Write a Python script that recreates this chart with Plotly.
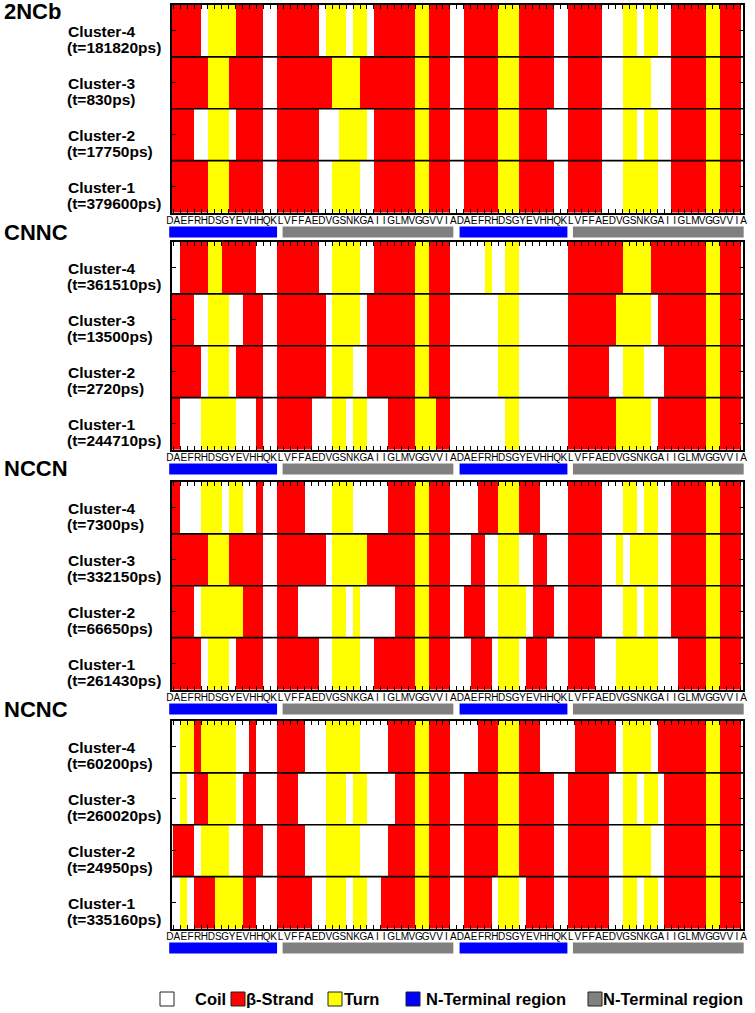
import plotly.graph_objects as go

W, H = 755, 1013

# ---------------- data ----------------
residue_numbers = list(range(1, 85))
sequence_labels = list("DAEFRHDSGYEVHHQKLVFFAEDVGSNKGAIIGLMVGGVVIA"
                       "DAEFRHDSGYEVHHQKLVFFAEDVGSNKGAIIGLMVGGVVIA")

panels = ["2NCb", "CNNC", "NCCN", "NCNC"]
clusters = ["Cluster-4", "Cluster-3", "Cluster-2", "Cluster-1"]

times_2NCb = ["181820", "830", "17750", "379600"]
times_CNNC = ["361510", "13500", "2720", "244710"]
times_NCCN = ["7300", "332150", "66650", "261430"]
times_NCNC = ["60200", "260020", "24950", "335160"]

# per-residue secondary structure (C = coil, E = beta-strand, T = turn), rows Cluster-4 .. Cluster-1
ss_2NCb = [
    "EEEEECTTTTEEEECCEEEEEECTTTCTTCEEEEEETTEEEC" "CEEEEETTTEEEEECCEEEEECCCTTCTTCCEEEEETTEEEC",
    "EEEEEETTTEEEEECCEEEEEEEETTTTEEEEEEEETTEEEC" "CEEEEETTTEEEEECCEEEEECCCTTTTCCCEEEEETTEEEC",
    "EEEECCTTTCEEEECCEEEEEECCCTTTTCEEEEEETTEEEC" "CEEEEETTTEEEECCCEEEEECCCTTCTTCCEEEEETTEEEC",
    "EEEEEETTTEEEEECCEEEEEECCTTTTCCEEEEEETTEEEC" "CEEEEETTTEEEEECCEEEEECCCTTTTTCCEEEEETTEEEC",
]
ss_CNNC = [
    "CCEEEETTEEEEECCCEEEEEECCTTTTCCEEEEEETTEEEC" "CCCCTCCTTCCCCCCCEEEEEEEETTTTEEEEEEEETTEEEC",
    "EEEECCTTTCCEEECCEEEEEEECTTTTCEEEEEEETTEEEC" "CCCCCCTTTCCCCCCCEEEEEEETTTTTCEEEEEEETTEEEC",
    "EEEEECTTTCEEEECCEEEEEEECTTTCCEEEEEEETTEEEC" "CCCCCCTTTCCCCCCCEEEEEECCTTTCCCEEEEEETTEEEC",
    "EECCCTTTTTCCCECCEEEEECCCTTCTTCCCEEEETTTEEC" "CCCCCCCTTCCCCCCCEEEEEEETTTTTCEEEEEEETTEEEC",
]
ss_NCCN = [
    "EECCCTTTCTTCCECCEEEECCCCTTTCCCCCEEEETTEEEC" "CCCEEETTTEEECCCCEEEEECCCTTCTTCCEEEEETTEEEC",
    "EEEEEETTTEEEEECCEEEEEEECTTTTTEEEEEEETTEEEC" "CCEECCTTTCCEECCCEEEEECCTCTTTTCCEEEEETTEEEC",
    "EEEECTTTTTTEEECCEEECCCCCTTCTCCCCCEEETTEEEC" "CEEECCTTTTCEEECCEEEEECCCTTCTTCCEEEEETTEEEC",
    "EEEEECTTTCEEEECCEEEEEECCTTTTCCEEEEEETTEEEC" "CCEEECTTTCEEECCCEEEECCCTTTTTTCCCEEEETTEEEC",
]
ss_NCNC = [
    "CCTTETTTTTCCECCCEEEECCCTTTTTCCCCEEEETTEEEC" "CCCEEETTTEEECCCCCEEEEEECTTTTCEEEEEEETTEEEC",
    "CCTCEETTTTCEECCCEEECCCCTTTCTTCCCCEEETTEEEC" "CEEEEETTTEEEEECCEEEEEECCTTCTTCEEEEEETTEEEC",
    "CEEECTTTTCCEEECCEEEECCCTTTTTCCCCEEEETTEEEC" "CEEEEETTTEEEEECCEEEEEECCTTTTCCEEEEEETTEEEC",
    "CCTCEEETTTTEECCCEEEEECCTTTCTTCCEEEEETTEEEC" "CEEEECTTTCEEEECCEEEEEECCTTCTTCEEEEEETTEEEC",
]

# region bars under each panel (axis units)
region_start = [0.9, 17.3, 42.9, 59.3]
region_end = [16.5, 42.0, 58.5, 84.0]
region_color = ["#0000FF", "#808080", "#0000FF", "#808080"]

legend_labels = ["Coil", "\u03b2-Strand", "Turn", "N-Terminal region", "N-Terminal region"]
legend_colors = ["#FFFFFF", "#FF0000", "#FFFF00", "#0000FF", "#808080"]

# ---------------- layout constants ----------------
FONT = "Liberation Sans, Arial, sans-serif"
X0, X1 = 171.7, 743.0          # plot area left/right (px)
XR = [1.26, 83.9]               # visible residue range
TOPS = [5, 242, 482, 721]       # panel tops (px)
PH = 207.5                      # panel height (px)

code = {"C": 0, "E": 1, "T": 2}
colorscale = [[0, "#FFFFFF"], [0.25, "#FFFFFF"], [0.25, "#FF0000"], [0.75, "#FF0000"],
              [0.75, "#FFFF00"], [1, "#FFFF00"]]

panel_ss = [ss_2NCb, ss_CNNC, ss_NCCN, ss_NCNC]
panel_times = [times_2NCb, times_CNNC, times_NCCN, times_NCNC]

def py(px):
    return 1 - px / H

fig = go.Figure()
layout = {}
shapes = []
annotations = []

units_per_paper = (XR[1] - XR[0]) / ((X1 - X0) / W)
strip_range = [XR[0] - (X0 / W) * units_per_paper, XR[1] + (1 - X1 / W) * units_per_paper]
layout["xaxis5"] = dict(domain=[0, 1], range=strip_range, visible=False, anchor="y5")

for i, name in enumerate(panels):
    p = i + 1
    s = "" if p == 1 else str(p)
    top = TOPS[i]
    bottom = top + PH
    rows = panel_ss[i]
    for r in rows:
        assert len(r) == 84, (name, len(r))
    z = [[code[c] for c in row] for row in rows[::-1]]
    fig.add_trace(go.Heatmap(z=z, x=residue_numbers, y=[0, 1, 2, 3], colorscale=colorscale,
                             zmin=0, zmax=2, showscale=False, hoverinfo="skip",
                             xaxis="x" + s, yaxis="y" + s))
    layout["xaxis" + s] = dict(domain=[X0 / W, X1 / W], range=XR, anchor="y" + s,
                               showline=True, linecolor="black", linewidth=1.6, mirror="ticks",
                               ticks="inside", ticklen=4, tickwidth=1, tickcolor="black",
                               tickvals=[k + 0.5 for k in range(0, 85)], showticklabels=False,
                               showgrid=False, zeroline=False)
    layout["yaxis" + s] = dict(domain=[py(bottom), py(top)], range=[-0.5, 3.5], anchor="x" + s,
                               showline=True, linecolor="black", linewidth=1.6, mirror="ticks",
                               ticks="inside", ticklen=4, tickwidth=1, tickcolor="black",
                               tickvals=[0, 1, 2, 3], showticklabels=False,
                               showgrid=False, zeroline=False)
    # row separators
    for yv in [0.5, 1.5, 2.5]:
        shapes.append(dict(type="line", xref="x" + s + " domain", yref="y" + s, x0=0, x1=1,
                           y0=yv, y1=yv, line=dict(color="black", width=1.6)))
    # strip with residue letters and region bars
    sy = "y" + str(4 + p)
    layout["yaxis" + str(4 + p)] = dict(domain=[py(bottom + 26), py(bottom + 2)], range=[24, 0],
                                        visible=False, anchor="x5")
    fig.add_trace(go.Scatter(x=residue_numbers, y=[6.5] * len(residue_numbers), mode="text",
                             text=sequence_labels, textfont=dict(size=10, family=FONT, color="black"),
                             xaxis="x5", yaxis=sy, hoverinfo="skip", showlegend=False,
                             cliponaxis=False))
    for a, b, c in zip(region_start, region_end, region_color):
        shapes.append(dict(type="rect", xref="x5", yref=sy, x0=a, x1=b, y0=12, y1=23,
                           fillcolor=c, line=dict(width=0)))
    # panel title
    ty = 11 if p == 1 else TOPS[i - 1] + PH + 19.5
    annotations.append(dict(text="<b>%s</b>" % name, x=2 / W, y=py(ty), xref="paper", yref="paper",
                            xanchor="left", yanchor="middle", showarrow=False,
                            font=dict(size=22, family=FONT, color="black")))
    # row labels
    times = panel_times[i]
    for k, cl in enumerate(clusters):
        yv = 3 - k
        annotations.append(dict(text="<b>%s</b>" % cl, x=66 / W, y=yv, xref="paper", yref="y" + s,
                                xanchor="left", yanchor="middle", yshift=-1, showarrow=False,
                                font=dict(size=15.5, family=FONT, color="black")))
        annotations.append(dict(text="<b>(t=%sps)</b>" % times[k], x=65 / W, y=yv, xref="paper",
                                yref="y" + s, xanchor="left", yanchor="middle", yshift=-17,
                                showarrow=False, font=dict(size=15.5, family=FONT, color="black")))

# ---------------- legend ----------------
LY = 999
sq_x = [160, 231, 328, 406, 588]
txt_x = [193, 244, 342, 424, 601]
for c, lab, sx, tx in zip(legend_colors, legend_labels, sq_x, txt_x):
    shapes.append(dict(type="rect", xref="paper", yref="paper", x0=sx / W, x1=(sx + 14) / W,
                       y0=py(LY + 7), y1=py(LY - 7), fillcolor=c,
                       line=dict(color="#222222", width=1)))
    annotations.append(dict(text="<b>%s</b>" % lab, x=tx / W, y=py(LY), xref="paper", yref="paper",
                            xanchor="left", yanchor="middle", showarrow=False,
                            font=dict(size=16.5, family=FONT, color="black")))

fig.update_layout(width=W, height=H, margin=dict(l=0, r=0, t=0, b=0),
                  paper_bgcolor="white", plot_bgcolor="white", showlegend=False,
                  shapes=shapes, annotations=annotations, **layout)

fig.write_html("out.html", config={"displayModeBar": False},
               post_script="document.body.style.margin='0px';document.body.style.overflow='hidden';")
